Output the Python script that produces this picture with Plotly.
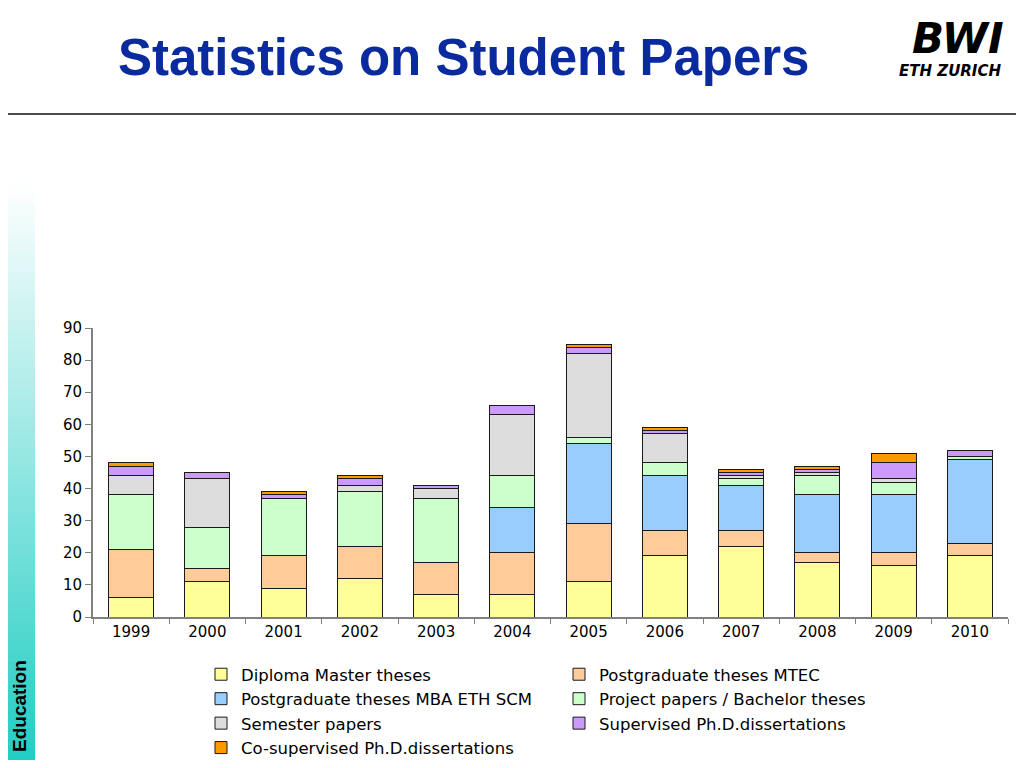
import plotly.graph_objects as go

# the page body has an 8px margin, so the figure sits at (8, 8);
# keep the page exactly 1024x768 so nothing overflows
OFF = 8
W, H = 1024 - 2 * OFF, 768 - 2 * OFF
# plot area in screen pixels
PL, PR, PT, PB = 93, 1008, 328, 617

years = ["1999", "2000", "2001", "2002", "2003", "2004",
         "2005", "2006", "2007", "2008", "2009", "2010"]

diploma_master = [6, 11, 9, 12, 7, 7, 11, 19, 22, 17, 16, 19]
postgrad_mtec = [15, 4, 10, 10, 10, 13, 18, 8, 5, 3, 4, 4]
postgrad_mba = [0, 0, 0, 0, 0, 14, 25, 17, 14, 18, 18, 26]
project_bachelor = [17, 13, 18, 17, 20, 10, 2, 4, 2, 6, 4, 1]
semester = [6, 15, 0, 2, 3, 19, 26, 9, 1, 1, 1, 0]
supervised_phd = [3, 2, 1, 2, 1, 3, 2, 1, 1, 1, 5, 2]
cosupervised_phd = [1, 0, 1, 1, 0, 0, 1, 1, 1, 1, 3, 0]

series = [
    ("Diploma Master theses", diploma_master, "#ffff99"),
    ("Postgraduate theses MTEC", postgrad_mtec, "#ffcc99"),
    ("Postgraduate theses MBA ETH SCM", postgrad_mba, "#99ccff"),
    ("Project papers / Bachelor theses", project_bachelor, "#ccffcc"),
    ("Semester papers", semester, "#dddddd"),
    ("Supervised Ph.D.dissertations", supervised_phd, "#cc99ff"),
    ("Co-supervised Ph.D.dissertations", cosupervised_phd, "#ff9900"),
]


# screen pixel -> paper fraction (margins are zero, so paper = whole figure)
def fx(x):
    return (x - OFF) / W


def fy(y):
    return 1 - (y - OFF) / H


fig = go.Figure()
for name, vals, col in series:
    fig.add_trace(go.Bar(
        x=years, y=vals, name=name,
        marker=dict(color=col, line=dict(color="#1a1a1a", width=1)),
    ))

# sidebar gradient
shapes = []
n_steps = 60
top, bottom = 185, 768
c0, c1 = (255, 255, 255), (30, 205, 195)
for i in range(n_steps):
    t = (i + 0.5) / n_steps
    r, g, b = [int(a + (bb - a) * t) for a, bb in zip(c0, c1)]
    y0 = top + (bottom - top) * i / n_steps
    y1 = top + (bottom - top) * (i + 1) / n_steps
    shapes.append(dict(type="rect", xref="paper", yref="paper",
                       x0=fx(0), x1=fx(35), y0=fy(y1 + 1), y1=fy(y0),
                       fillcolor=f"rgb({r},{g},{b})", line=dict(width=0),
                       layer="below"))
# header rule
shapes.append(dict(type="line", xref="paper", yref="paper",
                   x0=fx(0), x1=fx(1024), y0=fy(114), y1=fy(114),
                   line=dict(color="#4a4a4a", width=2)))

annotations = [
    dict(text="<b>Statistics on Student Papers</b>", xref="paper", yref="paper",
         x=fx(464), y=fy(58), showarrow=False, xanchor="center", yanchor="middle",
         font=dict(family="Liberation Sans, Arial", size=51, color="#0a2aa0")),
    dict(text="<b><i>BWI</i></b>", xref="paper", yref="paper",
         x=fx(958), y=fy(39), showarrow=False, xanchor="center", yanchor="middle",
         font=dict(family="DejaVu Sans", size=42, color="black")),
    dict(text="<b><i>ETH ZURICH</i></b>", xref="paper", yref="paper",
         x=fx(950), y=fy(71), showarrow=False, xanchor="center", yanchor="middle",
         font=dict(family="DejaVu Sans", size=15, color="black")),
    dict(text="<b>Education</b>", xref="paper", yref="paper",
         x=fx(19), y=fy(706), showarrow=False, textangle=-90,
         xanchor="center", yanchor="middle",
         font=dict(family="Liberation Sans, Arial", size=19, color="black")),
]

fig.update_layout(
    barmode="stack",
    bargap=0.41,
    width=W, height=H,
    margin=dict(l=0, r=0, t=0, b=0, pad=0, autoexpand=False),
    plot_bgcolor="white", paper_bgcolor="white",
    font=dict(family="DejaVu Sans", size=15, color="black"),
    showlegend=True,
    legend=dict(orientation="h", x=fx(201), y=fy(657),
                xanchor="left", yanchor="top",
                entrywidth=313, entrywidthmode="pixels",
                itemwidth=30, traceorder="normal",
                font=dict(family="DejaVu Sans", size=16.5, color="black"),
                bgcolor="rgba(0,0,0,0)"),
    shapes=shapes,
    annotations=annotations,
)
fig.update_xaxes(type="category", domain=[fx(PL), fx(PR)],
                 showline=True, linecolor="#808080", linewidth=2,
                 ticks="outside", tickson="boundaries", ticklen=5, tickcolor="#808080",
                 showgrid=False, tickfont=dict(size=15))
fig.update_yaxes(range=[0, 90], dtick=10, domain=[fy(PB), fy(PT)],
                 showline=True, linecolor="#808080", linewidth=2,
                 ticks="outside", ticklen=6, tickcolor="#808080", showgrid=False,
                 zeroline=False, tickfont=dict(size=15))

fig.write_html("out.html")
